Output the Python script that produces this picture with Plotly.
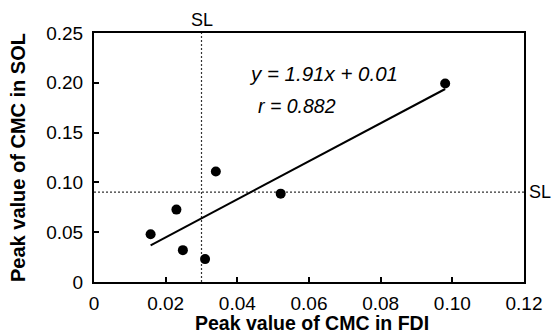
import plotly.graph_objects as go

# Data
fdi_cmc = [0.0158, 0.0230, 0.0248, 0.0310, 0.0340, 0.0521, 0.0980]
sol_cmc = [0.048, 0.0727, 0.032, 0.023, 0.111, 0.0887, 0.1993]
slope = 1.91
intercept = 0.0066
sl_fdi = 0.030
sl_sol = 0.0903
x_ticks = [0, 0.02, 0.04, 0.06, 0.08, 0.10, 0.12]
x_ticktext = ["0", "0.02", "0.04", "0.06", "0.08", "0.10", "0.12"]
y_ticks = [0, 0.05, 0.10, 0.15, 0.20, 0.25]
y_ticktext = ["0", "0.05", "0.10", "0.15", "0.20", "0.25"]
x_title = "Peak value of CMC in FDI"
y_title = "Peak value of CMC in SOL"

FONT = "Arial, Liberation Sans, sans-serif"

fit_x = [min(fdi_cmc), max(fdi_cmc)]
fit_y = [slope * v + intercept for v in fit_x]

fig = go.Figure()
# Significance level lines
fig.add_trace(go.Scatter(x=[sl_fdi, sl_fdi], y=[0, 0.25], mode="lines",
                         line=dict(color="#333333", width=1.2, dash="2px,2px"),
                         showlegend=False, hoverinfo="skip"))
fig.add_trace(go.Scatter(x=[0, 0.12], y=[sl_sol, sl_sol], mode="lines",
                         line=dict(color="#333333", width=1.2, dash="2px,2px"),
                         showlegend=False, hoverinfo="skip"))
# Regression line
fig.add_trace(go.Scatter(x=fit_x, y=fit_y, mode="lines",
                         line=dict(color="black", width=2),
                         showlegend=False))
# Points
fig.add_trace(go.Scatter(x=fdi_cmc, y=sol_cmc, mode="markers",
                         marker=dict(color="black", size=10),
                         showlegend=False))

fig.add_annotation(x=sl_fdi, y=1.0, xref="x", yref="paper", text="SL",
                   showarrow=False, yanchor="bottom", yshift=1,
                   font=dict(family=FONT, size=18, color="black"))
fig.add_annotation(x=1.0, y=sl_sol, xref="paper", yref="y", text="SL",
                   showarrow=False, xanchor="left", xshift=3,
                   font=dict(family=FONT, size=18, color="black"))
fig.add_annotation(x=0.0427, y=0.209, xref="x", yref="y",
                   text="<i>y = 1.91x + 0.01</i>", showarrow=False,
                   xanchor="left", font=dict(family=FONT, size=20.5, color="black"))
fig.add_annotation(x=0.0451, y=0.177, xref="x", yref="y",
                   text="<i>r = 0.882</i>", showarrow=False,
                   xanchor="left", font=dict(family=FONT, size=19.5, color="black"))
# X axis title
fig.add_annotation(x=0.508, y=0, xref="paper", yref="paper",
                   text="<b>" + x_title + "</b>", showarrow=False,
                   yanchor="top", yshift=-29, borderpad=0,
                   font=dict(family=FONT, size=19.5, color="black"))

fig.update_layout(
    width=553, height=336,
    margin=dict(l=94, r=29, t=33, b=54, autoexpand=False),
    paper_bgcolor="white", plot_bgcolor="white",
    font=dict(family=FONT, size=19, color="black"),
    xaxis=dict(range=[0, 0.12], tickvals=x_ticks, ticktext=x_ticktext,
               ticks="inside", ticklen=5, tickwidth=2, tickcolor="black",
               ticklabelstandoff=3,
               showline=True, linecolor="black", linewidth=2, mirror=True,
               showgrid=False, zeroline=False, automargin=False),
    yaxis=dict(range=[0, 0.25], tickvals=y_ticks, ticktext=y_ticktext,
               ticks="inside", ticklen=5, tickwidth=2, tickcolor="black",
               ticklabelstandoff=5,
               showline=True, linecolor="black", linewidth=2, mirror=True,
               showgrid=False, zeroline=False, automargin=False,
               title=dict(text="<b>" + y_title + "</b>",
                          font=dict(family=FONT, size=20))),
)

fig.write_html("out.html", config={"displayModeBar": False},
               post_script="document.body.style.margin='0';document.body.style.overflow='hidden';")
